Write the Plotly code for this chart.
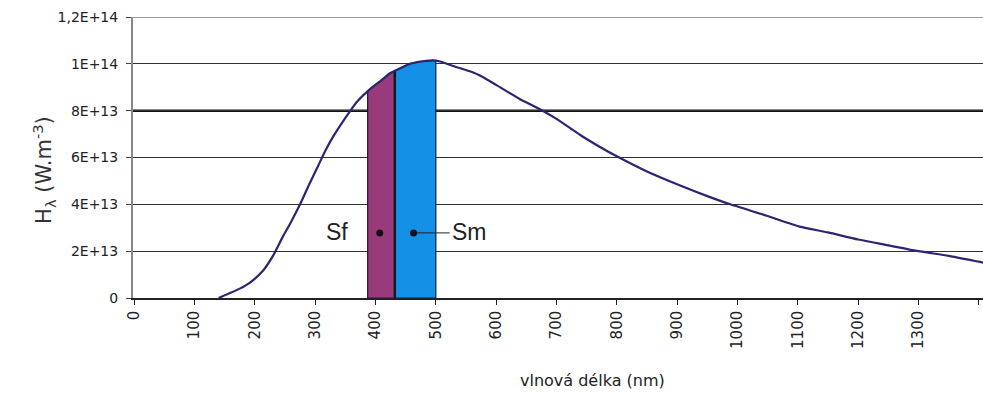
import numpy as np
import plotly.graph_objects as go

# wavelength (nm) and spectral irradiance H_lambda (W.m^-3)
wavelength = [140, 158, 175, 192, 213, 230, 246, 260, 275, 290, 305, 316, 330, 345, 357,
              370, 390, 410, 424, 440, 457, 470, 482, 495, 507, 530, 560, 573, 600, 639,
              677, 700, 740, 772, 800, 850, 905, 950, 988, 1050, 1103, 1150, 1200, 1250,
              1300, 1350, 1400, 1410]
h_lambda_e13 = [0, 0.2, 0.4, 0.66, 1.15, 1.8, 2.6, 3.25, 4.0, 4.85, 5.65, 6.25, 6.9, 7.5, 7.95,
                8.4, 8.9, 9.3, 9.6, 9.8, 10.0, 10.08, 10.12, 10.15, 10.1, 9.9, 9.65, 9.5, 9.1, 8.5,
                8.0, 7.65, 6.95, 6.45, 6.05, 5.4, 4.8, 4.35, 4.0, 3.5, 3.05, 2.8, 2.5, 2.25,
                2.0, 1.8, 1.55, 1.5]

# integration bands (nm)
band_f = [387, 432]
band_m = [432, 500]

# label markers
label_names = ["Sf", "Sm"]
label_dot_x = [407, 463]
label_dot_y = [2.78e13, 2.78e13]
label_text_x = [336, 556]
connector_end_x = 523

x_ticks = list(range(0, 1500, 100))
y_tickvals = [0, 2e13, 4e13, 6e13, 8e13, 1e14, 1.2e14]
y_ticktext = ["0", "2E+13", "4E+13", "6E+13", "8E+13", "1E+14", "1,2E+14"]

wl = np.array(wavelength, dtype=float)
h = np.array(h_lambda_e13) * 1e13

TICK_FONT = "DejaVu Sans, Arial"
TEXT_FONT = "Liberation Sans, Arial"


def band_poly(lo, hi):
    inner = (wl > lo) & (wl < hi)
    xs = [lo] + list(wl[inner]) + [hi]
    ys = [np.interp(lo, wl, h)] + list(h[inner]) + [np.interp(hi, wl, h)]
    return [lo] + xs + [hi, lo], [0] + ys + [0, 0]


fig = go.Figure()

fx, fy = band_poly(*band_f)
fig.add_trace(go.Scatter(x=fx, y=fy, mode="lines", fill="toself",
                         fillcolor="#983a7c", line=dict(color="#2a1030", width=1.2),
                         hoverinfo="skip", showlegend=False))
mx, my = band_poly(*band_m)
fig.add_trace(go.Scatter(x=mx, y=my, mode="lines", fill="toself",
                         fillcolor="#1490e6", line=dict(color="#0d2340", width=1.2),
                         hoverinfo="skip", showlegend=False))
# separator line
fig.add_trace(go.Scatter(x=[band_f[1], band_f[1]], y=[0, np.interp(band_f[1], wl, h)],
                         mode="lines", line=dict(color="#101820", width=2.5),
                         hoverinfo="skip", showlegend=False))

fig.add_trace(go.Scatter(x=wl, y=h, mode="lines",
                         line=dict(color="#2a2672", width=2.2, shape="spline", smoothing=0.6),
                         showlegend=False))

# Sm connector line
fig.add_trace(go.Scatter(x=[label_dot_x[1], connector_end_x], y=[label_dot_y[1]] * 2,
                         mode="lines", line=dict(color="#222222", width=1),
                         hoverinfo="skip", showlegend=False))
fig.add_trace(go.Scatter(x=label_dot_x, y=label_dot_y, mode="markers",
                         marker=dict(color="#111111", size=7), hoverinfo="skip",
                         showlegend=False))

for name, tx, ty in zip(label_names, label_text_x, label_dot_y):
    fig.add_annotation(x=tx, y=ty, text=name, showarrow=False, yshift=1,
                       font=dict(family=TEXT_FONT, size=23, color="#222222"))

# thick 8E13 line and top line
fig.add_shape(type="line", xref="paper", x0=0, x1=1, y0=8e13, y1=8e13,
              line=dict(color="#111111", width=2.5), layer="below")
fig.add_shape(type="line", xref="paper", x0=0, x1=1, y0=1.2e14, y1=1.2e14,
              line=dict(color="#333333", width=1.2), layer="below")

fig.add_annotation(xref="paper", yref="paper", x=-0.125, y=0.455,
                   text="H<sub>λ</sub> (W.m<sup>-3</sup>)", textangle=-90, showarrow=False,
                   font=dict(family=TICK_FONT, size=21, color="#333333"))
fig.add_annotation(xref="paper", yref="paper", x=0.54, y=-0.295, yanchor="middle",
                   text="vlnová délka (nm)", showarrow=False,
                   font=dict(family=TICK_FONT, size=16, color="#222222"))

fig.update_layout(
    width=983, height=393,
    margin=dict(l=133, r=0, t=17, b=95),
    paper_bgcolor="white", plot_bgcolor="white",
    font=dict(family=TICK_FONT, size=14, color="#222222"),
    xaxis=dict(range=[-2, 1407], tickvals=x_ticks, ticktext=[str(v) for v in x_ticks],
               tickangle=-90, ticks="outside", ticklen=5, tickcolor="#222",
               tickfont=dict(family=TICK_FONT, size=15, color="#222"),
               showgrid=False, showline=True, linecolor="#222", linewidth=1.5,
               zeroline=False, automargin=False),
    yaxis=dict(range=[0, 1.2e14], tickvals=y_tickvals, ticktext=y_ticktext,
               ticks="outside", ticklen=5, tickcolor="#444",
               showgrid=True, gridcolor="#333333", gridwidth=1.2,
               showline=True, linecolor="#888888", linewidth=2, zeroline=False,
               automargin=False, ticklabelstandoff=5,
               tickfont=dict(family=TICK_FONT, size=14, color="#222")),
)

fig.write_html("out.html", config={"displayModeBar": False},
               post_script="document.body.style.margin='0';document.body.style.overflow='hidden';")
